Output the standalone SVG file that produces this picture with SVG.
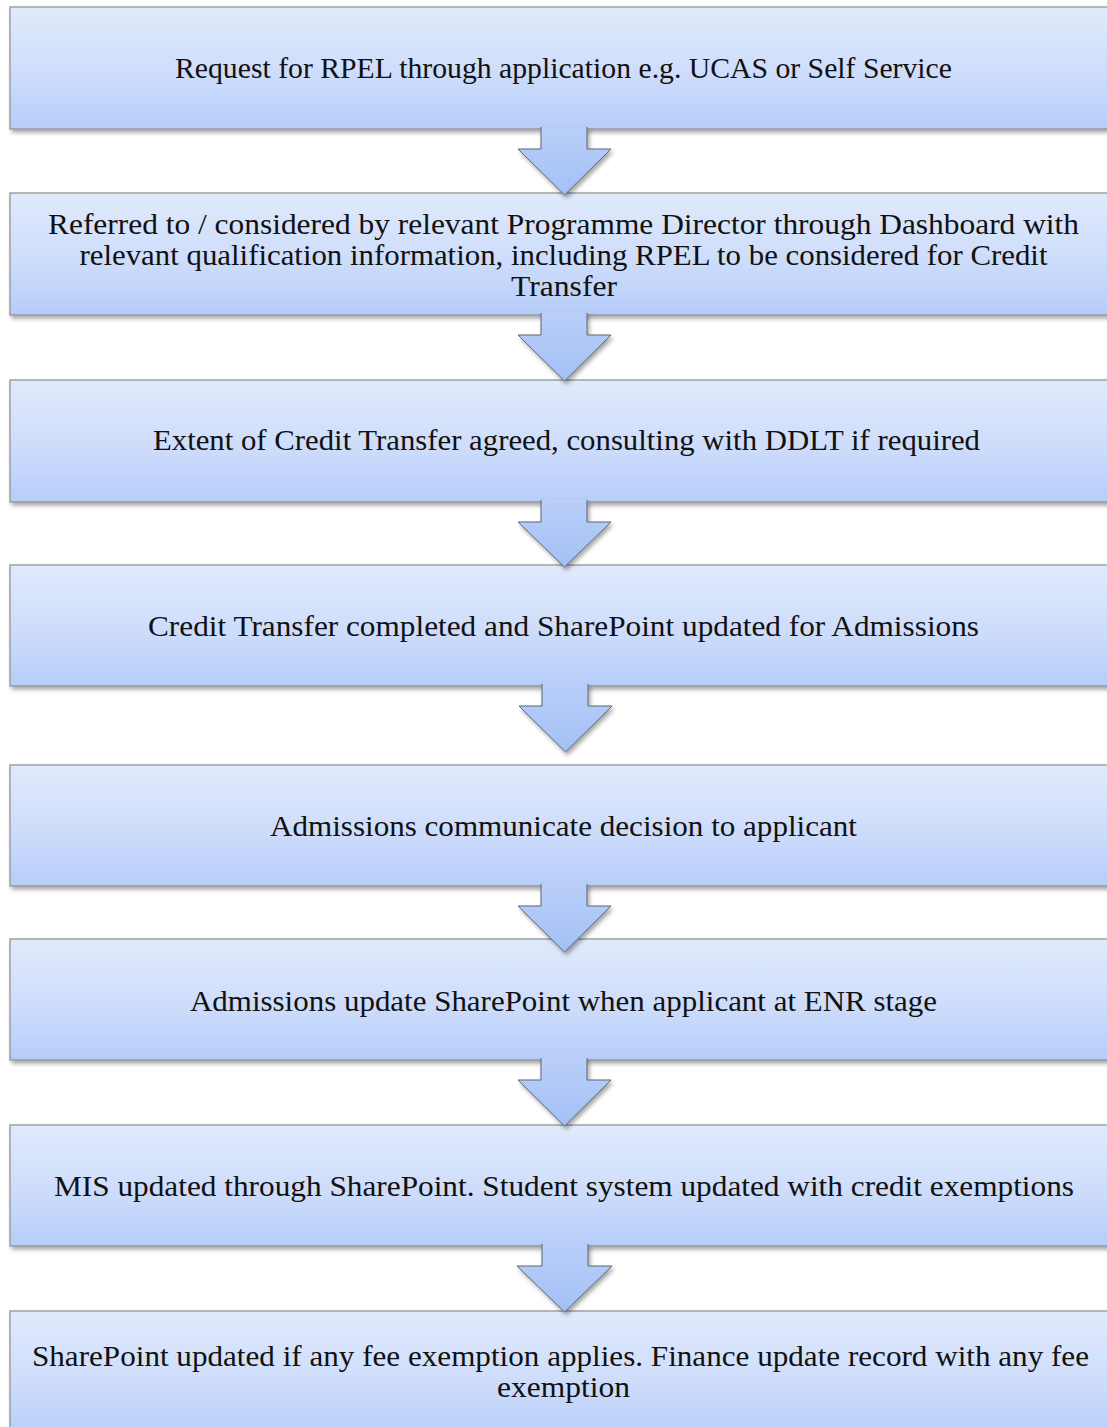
<svg xmlns="http://www.w3.org/2000/svg" width="1107" height="1427" viewBox="0 0 1107 1427">
  <defs>
    <linearGradient id="boxFill" x1="0" y1="0" x2="0" y2="1">
      <stop offset="0" stop-color="#e0eafc"/>
      <stop offset="0.5" stop-color="#d0defb"/>
      <stop offset="1" stop-color="#b6cdf9"/>
    </linearGradient>
    <linearGradient id="arrowFill" x1="0" y1="0" x2="0" y2="1">
      <stop offset="0" stop-color="#b9cff9"/>
      <stop offset="1" stop-color="#a3c0f6"/>
    </linearGradient>
    <filter id="shadow" x="-5%" y="-10%" width="115%" height="130%">
      <feDropShadow dx="2" dy="3" stdDeviation="2" flood-color="#000" flood-opacity="0.35"/>
    </filter>
  </defs>
  <style>
    .box { fill: url(#boxFill); stroke: #8c8c8c; stroke-width: 1.2; filter: url(#shadow); }
    .arrow { fill: url(#arrowFill); stroke: #5d6775; stroke-width: 1; stroke-linejoin: miter; filter: url(#shadow); }
    .label { font-family: "Liberation Serif", "DejaVu Serif", serif; font-size: 30px; fill: #111; text-anchor: middle; }
  </style>
  <rect width="1107" height="1427" fill="#ffffff"/>

  <!-- process steps -->
  <g id="step1">
    <rect class="box" x="10" y="7" width="1110" height="122"/>
    <text class="label" x="563.5" y="78" textLength="777" lengthAdjust="spacingAndGlyphs">Request for RPEL through application e.g. UCAS or Self Service</text>
  </g>
  <g id="step2">
    <rect class="box" x="10" y="193" width="1110" height="122"/>
    <text class="label" x="563.5" y="234" textLength="1031" lengthAdjust="spacingAndGlyphs">Referred to / considered by relevant Programme Director through Dashboard with</text>
    <text class="label" x="563.5" y="265" textLength="968" lengthAdjust="spacingAndGlyphs">relevant qualification information, including RPEL to be considered for Credit</text>
    <text class="label" x="564" y="296" textLength="106" lengthAdjust="spacingAndGlyphs">Transfer</text>
  </g>
  <g id="step3">
    <rect class="box" x="10" y="380" width="1110" height="122"/>
    <text class="label" x="566.5" y="450" textLength="827" lengthAdjust="spacingAndGlyphs">Extent of Credit Transfer agreed, consulting with DDLT if required</text>
  </g>
  <g id="step4">
    <rect class="box" x="10" y="565" width="1110" height="121"/>
    <text class="label" x="563.5" y="636" textLength="831" lengthAdjust="spacingAndGlyphs">Credit Transfer completed and SharePoint updated for Admissions</text>
  </g>
  <g id="step5">
    <rect class="box" x="10" y="765" width="1110" height="121"/>
    <text class="label" x="563.5" y="836" textLength="587" lengthAdjust="spacingAndGlyphs">Admissions communicate decision to applicant</text>
  </g>
  <g id="step6">
    <rect class="box" x="10" y="939" width="1110" height="121"/>
    <text class="label" x="563.5" y="1011" textLength="747" lengthAdjust="spacingAndGlyphs">Admissions update SharePoint when applicant at ENR stage</text>
  </g>
  <g id="step7">
    <rect class="box" x="10" y="1125" width="1110" height="121"/>
    <text class="label" x="564" y="1196" textLength="1020" lengthAdjust="spacingAndGlyphs">MIS updated through SharePoint. Student system updated with credit exemptions</text>
  </g>
  <g id="step8">
    <rect class="box" x="10" y="1311" width="1110" height="130"/>
    <text class="label" x="560.5" y="1366" textLength="1057" lengthAdjust="spacingAndGlyphs">SharePoint updated if any fee exemption applies. Finance update record with any fee</text>
    <text class="label" x="563.5" y="1397" textLength="133" lengthAdjust="spacingAndGlyphs">exemption</text>
  </g>

  <!-- block arrows between steps -->
  <g id="connectors">
    <path class="arrow" d="M541,127 V149 H518 L564.5,195 L611,149 H587 V127"/>
    <path class="arrow" d="M541,313 V335 H518 L564.5,381 L611,335 H587 V313"/>
    <path class="arrow" d="M541,500 V522 H518 L564.5,567 L611,522 H587 V500"/>
    <path class="arrow" d="M542,684 V706 H519 L565.5,752 L612,706 H588 V684"/>
    <path class="arrow" d="M541,884 V906 H518 L564.5,952 L611,906 H587 V884"/>
    <path class="arrow" d="M541,1058 V1080 H518 L564.5,1126 L611,1080 H587 V1058"/>
    <path class="arrow" d="M542,1244 V1266 H517 L564.5,1312 L612,1266 H588 V1244"/>
  </g>
</svg>
